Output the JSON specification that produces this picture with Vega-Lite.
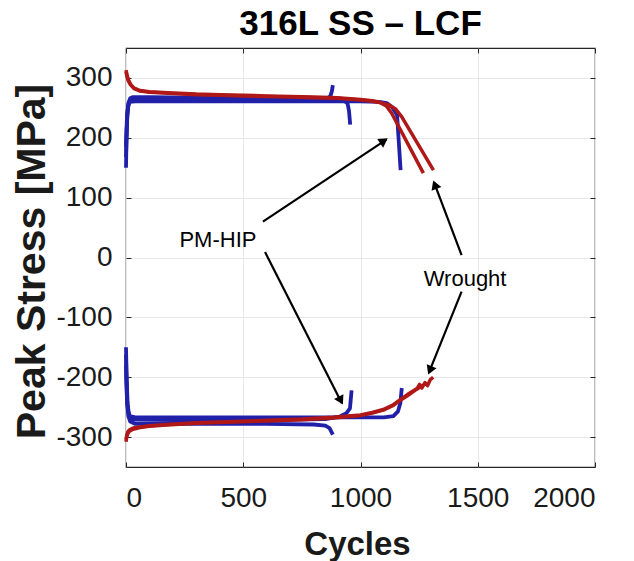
{
  "$schema": "https://vega.github.io/schema/vega-lite/v6.json",
  "width": 469,
  "height": 419,
  "autosize": {"type": "none"},
  "padding": {"left": 126, "top": 48, "right": 39, "bottom": 94},
  "background": "white",
  "config": {"view": {"stroke": "#262626", "strokeWidth": 1.2}, "font": "Liberation Sans"},
  "title": {"text": "316L SS – LCF", "fontSize": 35, "fontWeight": "bold", "font": "Liberation Sans", "color": "#000000", "anchor": "middle", "offset": 6},
  "datasets": {
    "curves": [
      {"series": "P1T", "group": "PM-HIP", "cycles": 0, "stress": 150},
      {"series": "P1T", "group": "PM-HIP", "cycles": 2, "stress": 195},
      {"series": "P1T", "group": "PM-HIP", "cycles": 5, "stress": 235},
      {"series": "P1T", "group": "PM-HIP", "cycles": 10, "stress": 258},
      {"series": "P1T", "group": "PM-HIP", "cycles": 18, "stress": 266},
      {"series": "P1T", "group": "PM-HIP", "cycles": 30, "stress": 268},
      {"series": "P1T", "group": "PM-HIP", "cycles": 100, "stress": 268},
      {"series": "P1T", "group": "PM-HIP", "cycles": 300, "stress": 267},
      {"series": "P1T", "group": "PM-HIP", "cycles": 500, "stress": 267},
      {"series": "P1T", "group": "PM-HIP", "cycles": 700, "stress": 266},
      {"series": "P1T", "group": "PM-HIP", "cycles": 860, "stress": 266},
      {"series": "P1T", "group": "PM-HIP", "cycles": 872, "stress": 270},
      {"series": "P1T", "group": "PM-HIP", "cycles": 878, "stress": 278},
      {"series": "P1T", "group": "PM-HIP", "cycles": 882, "stress": 288},
      {"series": "P2T", "group": "PM-HIP", "cycles": 0, "stress": 168},
      {"series": "P2T", "group": "PM-HIP", "cycles": 3, "stress": 215},
      {"series": "P2T", "group": "PM-HIP", "cycles": 7, "stress": 245},
      {"series": "P2T", "group": "PM-HIP", "cycles": 13, "stress": 260},
      {"series": "P2T", "group": "PM-HIP", "cycles": 25, "stress": 264},
      {"series": "P2T", "group": "PM-HIP", "cycles": 300, "stress": 264},
      {"series": "P2T", "group": "PM-HIP", "cycles": 600, "stress": 263},
      {"series": "P2T", "group": "PM-HIP", "cycles": 850, "stress": 263},
      {"series": "P2T", "group": "PM-HIP", "cycles": 930, "stress": 262},
      {"series": "P2T", "group": "PM-HIP", "cycles": 945, "stress": 257},
      {"series": "P2T", "group": "PM-HIP", "cycles": 951, "stress": 245},
      {"series": "P2T", "group": "PM-HIP", "cycles": 956, "stress": 222},
      {"series": "P3T", "group": "PM-HIP", "cycles": 0, "stress": 185},
      {"series": "P3T", "group": "PM-HIP", "cycles": 4, "stress": 235},
      {"series": "P3T", "group": "PM-HIP", "cycles": 9, "stress": 253},
      {"series": "P3T", "group": "PM-HIP", "cycles": 16, "stress": 260},
      {"series": "P3T", "group": "PM-HIP", "cycles": 40, "stress": 261},
      {"series": "P3T", "group": "PM-HIP", "cycles": 400, "stress": 261},
      {"series": "P3T", "group": "PM-HIP", "cycles": 800, "stress": 261},
      {"series": "P3T", "group": "PM-HIP", "cycles": 1000, "stress": 261},
      {"series": "P3T", "group": "PM-HIP", "cycles": 1080, "stress": 260},
      {"series": "P3T", "group": "PM-HIP", "cycles": 1112, "stress": 258},
      {"series": "P3T", "group": "PM-HIP", "cycles": 1135, "stress": 251},
      {"series": "P3T", "group": "PM-HIP", "cycles": 1156, "stress": 238},
      {"series": "P3T", "group": "PM-HIP", "cycles": 1171, "stress": 146},
      {"series": "P1C", "group": "PM-HIP", "cycles": 0, "stress": -162},
      {"series": "P1C", "group": "PM-HIP", "cycles": 2, "stress": -210},
      {"series": "P1C", "group": "PM-HIP", "cycles": 5, "stress": -245},
      {"series": "P1C", "group": "PM-HIP", "cycles": 10, "stress": -265},
      {"series": "P1C", "group": "PM-HIP", "cycles": 18, "stress": -274},
      {"series": "P1C", "group": "PM-HIP", "cycles": 40, "stress": -278},
      {"series": "P1C", "group": "PM-HIP", "cycles": 300, "stress": -278},
      {"series": "P1C", "group": "PM-HIP", "cycles": 600, "stress": -278},
      {"series": "P1C", "group": "PM-HIP", "cycles": 800, "stress": -279},
      {"series": "P1C", "group": "PM-HIP", "cycles": 850, "stress": -281},
      {"series": "P1C", "group": "PM-HIP", "cycles": 868, "stress": -285},
      {"series": "P1C", "group": "PM-HIP", "cycles": 882, "stress": -296},
      {"series": "P2C", "group": "PM-HIP", "cycles": 0, "stress": -150},
      {"series": "P2C", "group": "PM-HIP", "cycles": 3, "stress": -205},
      {"series": "P2C", "group": "PM-HIP", "cycles": 7, "stress": -245},
      {"series": "P2C", "group": "PM-HIP", "cycles": 13, "stress": -263},
      {"series": "P2C", "group": "PM-HIP", "cycles": 25, "stress": -271},
      {"series": "P2C", "group": "PM-HIP", "cycles": 300, "stress": -272},
      {"series": "P2C", "group": "PM-HIP", "cycles": 700, "stress": -271},
      {"series": "P2C", "group": "PM-HIP", "cycles": 850, "stress": -270},
      {"series": "P2C", "group": "PM-HIP", "cycles": 910, "stress": -266},
      {"series": "P2C", "group": "PM-HIP", "cycles": 940, "stress": -260},
      {"series": "P2C", "group": "PM-HIP", "cycles": 955, "stress": -252},
      {"series": "P2C", "group": "PM-HIP", "cycles": 962, "stress": -222},
      {"series": "P3C", "group": "PM-HIP", "cycles": 0, "stress": -180},
      {"series": "P3C", "group": "PM-HIP", "cycles": 4, "stress": -235},
      {"series": "P3C", "group": "PM-HIP", "cycles": 9, "stress": -257},
      {"series": "P3C", "group": "PM-HIP", "cycles": 16, "stress": -265},
      {"series": "P3C", "group": "PM-HIP", "cycles": 40, "stress": -267},
      {"series": "P3C", "group": "PM-HIP", "cycles": 500, "stress": -267},
      {"series": "P3C", "group": "PM-HIP", "cycles": 1000, "stress": -267},
      {"series": "P3C", "group": "PM-HIP", "cycles": 1100, "stress": -267},
      {"series": "P3C", "group": "PM-HIP", "cycles": 1140, "stress": -265},
      {"series": "P3C", "group": "PM-HIP", "cycles": 1160, "stress": -257},
      {"series": "P3C", "group": "PM-HIP", "cycles": 1170, "stress": -243},
      {"series": "P3C", "group": "PM-HIP", "cycles": 1176, "stress": -218},
      {"series": "W1T", "group": "Wrought", "cycles": 0, "stress": 313},
      {"series": "W1T", "group": "Wrought", "cycles": 4, "stress": 306},
      {"series": "W1T", "group": "Wrought", "cycles": 10, "stress": 297},
      {"series": "W1T", "group": "Wrought", "cycles": 20, "stress": 289},
      {"series": "W1T", "group": "Wrought", "cycles": 35, "stress": 283},
      {"series": "W1T", "group": "Wrought", "cycles": 60, "stress": 279},
      {"series": "W1T", "group": "Wrought", "cycles": 100, "stress": 277},
      {"series": "W1T", "group": "Wrought", "cycles": 200, "stress": 275},
      {"series": "W1T", "group": "Wrought", "cycles": 300, "stress": 273},
      {"series": "W1T", "group": "Wrought", "cycles": 400, "stress": 272},
      {"series": "W1T", "group": "Wrought", "cycles": 500, "stress": 271},
      {"series": "W1T", "group": "Wrought", "cycles": 600, "stress": 270},
      {"series": "W1T", "group": "Wrought", "cycles": 700, "stress": 269},
      {"series": "W1T", "group": "Wrought", "cycles": 800, "stress": 268},
      {"series": "W1T", "group": "Wrought", "cycles": 900, "stress": 267},
      {"series": "W1T", "group": "Wrought", "cycles": 1000, "stress": 264},
      {"series": "W1T", "group": "Wrought", "cycles": 1050, "stress": 262},
      {"series": "W1T", "group": "Wrought", "cycles": 1083, "stress": 259},
      {"series": "W1T", "group": "Wrought", "cycles": 1110, "stress": 253},
      {"series": "W1T", "group": "Wrought", "cycles": 1133, "stress": 241},
      {"series": "W1T", "group": "Wrought", "cycles": 1268, "stress": 141},
      {"series": "W2T", "group": "Wrought", "cycles": 0, "stress": 310},
      {"series": "W2T", "group": "Wrought", "cycles": 4, "stress": 303},
      {"series": "W2T", "group": "Wrought", "cycles": 10, "stress": 295},
      {"series": "W2T", "group": "Wrought", "cycles": 20, "stress": 288},
      {"series": "W2T", "group": "Wrought", "cycles": 35, "stress": 282},
      {"series": "W2T", "group": "Wrought", "cycles": 60, "stress": 278},
      {"series": "W2T", "group": "Wrought", "cycles": 100, "stress": 276},
      {"series": "W2T", "group": "Wrought", "cycles": 200, "stress": 274},
      {"series": "W2T", "group": "Wrought", "cycles": 300, "stress": 272},
      {"series": "W2T", "group": "Wrought", "cycles": 400, "stress": 271},
      {"series": "W2T", "group": "Wrought", "cycles": 500, "stress": 270},
      {"series": "W2T", "group": "Wrought", "cycles": 600, "stress": 269},
      {"series": "W2T", "group": "Wrought", "cycles": 700, "stress": 268},
      {"series": "W2T", "group": "Wrought", "cycles": 800, "stress": 267},
      {"series": "W2T", "group": "Wrought", "cycles": 900, "stress": 266},
      {"series": "W2T", "group": "Wrought", "cycles": 1000, "stress": 263},
      {"series": "W2T", "group": "Wrought", "cycles": 1050, "stress": 261},
      {"series": "W2T", "group": "Wrought", "cycles": 1083, "stress": 259},
      {"series": "W2T", "group": "Wrought", "cycles": 1120, "stress": 255},
      {"series": "W2T", "group": "Wrought", "cycles": 1150, "stress": 248},
      {"series": "W2T", "group": "Wrought", "cycles": 1176, "stress": 235},
      {"series": "W2T", "group": "Wrought", "cycles": 1311, "stress": 146},
      {"series": "W1C", "group": "Wrought", "cycles": 0, "stress": -308},
      {"series": "W1C", "group": "Wrought", "cycles": 3, "stress": -300},
      {"series": "W1C", "group": "Wrought", "cycles": 8, "stress": -294},
      {"series": "W1C", "group": "Wrought", "cycles": 15, "stress": -290},
      {"series": "W1C", "group": "Wrought", "cycles": 30, "stress": -287},
      {"series": "W1C", "group": "Wrought", "cycles": 60, "stress": -284},
      {"series": "W1C", "group": "Wrought", "cycles": 100, "stress": -282},
      {"series": "W1C", "group": "Wrought", "cycles": 174, "stress": -280},
      {"series": "W1C", "group": "Wrought", "cycles": 300, "stress": -277},
      {"series": "W1C", "group": "Wrought", "cycles": 457, "stress": -275},
      {"series": "W1C", "group": "Wrought", "cycles": 600, "stress": -273},
      {"series": "W1C", "group": "Wrought", "cycles": 750, "stress": -271},
      {"series": "W1C", "group": "Wrought", "cycles": 884, "stress": -268},
      {"series": "W1C", "group": "Wrought", "cycles": 1000, "stress": -264},
      {"series": "W1C", "group": "Wrought", "cycles": 1050, "stress": -260},
      {"series": "W1C", "group": "Wrought", "cycles": 1097, "stress": -255},
      {"series": "W1C", "group": "Wrought", "cycles": 1140, "stress": -247},
      {"series": "W1C", "group": "Wrought", "cycles": 1168, "stress": -239},
      {"series": "W1C", "group": "Wrought", "cycles": 1200, "stress": -231},
      {"series": "W1C", "group": "Wrought", "cycles": 1240, "stress": -220},
      {"series": "W1C", "group": "Wrought", "cycles": 1268, "stress": -213},
      {"series": "W2C", "group": "Wrought", "cycles": 0, "stress": -304},
      {"series": "W2C", "group": "Wrought", "cycles": 3, "stress": -297},
      {"series": "W2C", "group": "Wrought", "cycles": 8, "stress": -291},
      {"series": "W2C", "group": "Wrought", "cycles": 15, "stress": -288},
      {"series": "W2C", "group": "Wrought", "cycles": 30, "stress": -285},
      {"series": "W2C", "group": "Wrought", "cycles": 60, "stress": -283},
      {"series": "W2C", "group": "Wrought", "cycles": 100, "stress": -281},
      {"series": "W2C", "group": "Wrought", "cycles": 174, "stress": -279},
      {"series": "W2C", "group": "Wrought", "cycles": 300, "stress": -276},
      {"series": "W2C", "group": "Wrought", "cycles": 457, "stress": -274},
      {"series": "W2C", "group": "Wrought", "cycles": 600, "stress": -272},
      {"series": "W2C", "group": "Wrought", "cycles": 750, "stress": -270},
      {"series": "W2C", "group": "Wrought", "cycles": 884, "stress": -267},
      {"series": "W2C", "group": "Wrought", "cycles": 1000, "stress": -263},
      {"series": "W2C", "group": "Wrought", "cycles": 1050, "stress": -259},
      {"series": "W2C", "group": "Wrought", "cycles": 1097, "stress": -254},
      {"series": "W2C", "group": "Wrought", "cycles": 1140, "stress": -246},
      {"series": "W2C", "group": "Wrought", "cycles": 1168, "stress": -238},
      {"series": "W2C", "group": "Wrought", "cycles": 1200, "stress": -229},
      {"series": "W2C", "group": "Wrought", "cycles": 1241, "stress": -219},
      {"series": "W2C", "group": "Wrought", "cycles": 1252, "stress": -212},
      {"series": "W2C", "group": "Wrought", "cycles": 1262, "stress": -218},
      {"series": "W2C", "group": "Wrought", "cycles": 1275, "stress": -209},
      {"series": "W2C", "group": "Wrought", "cycles": 1286, "stress": -214},
      {"series": "W2C", "group": "Wrought", "cycles": 1298, "stress": -204},
      {"series": "W2C", "group": "Wrought", "cycles": 1310, "stress": -200}
    ],
    "labels": [
      {"label": "PM-HIP", "cycles": 392, "stress": 30},
      {"label": "Wrought", "cycles": 1446, "stress": -36}
    ],
    "arrows": [
      {"id": "a1", "x1": 584, "y1": 60, "x2": 1110, "y2": 197, "hx": 1100, "hy": 195},
      {"id": "a2", "x1": 593, "y1": 9, "x2": 920, "y2": -243, "hx": 916, "hy": -239},
      {"id": "a3", "x1": 1431, "y1": 4, "x2": 1314, "y2": 125, "hx": 1317, "hy": 121.6},
      {"id": "a4", "x1": 1431, "y1": -57, "x2": 1292, "y2": -192, "hx": 1296, "hy": -188.6}
    ]
  },
  "layer": [
    {
      "layer": [
        {
          "data": {"name": "curves"},
          "transform": [{"filter": "datum.group === 'PM-HIP'"}],
          "mark": {"type": "line", "strokeWidth": 3.8, "color": "#2020a8", "strokeJoin": "round"},
          "encoding": {
            "x": {"field": "cycles", "type": "quantitative",
              "scale": {"domain": [0, 2000], "nice": false, "zero": false},
              "axis": {"orient": "bottom", "values": [0, 500, 1000, 1500, 2000], "labelExpr": "'' + datum.value", "domain": false, "grid": true, "gridColor": "#e8e8e8", "gridWidth": 1,
                "ticks": true, "tickSize": -5, "tickColor": "#262626", "tickWidth": 1,
                "labelFontSize": 28, "labelColor": "#1a1a1a", "labelFont": "Liberation Sans", "labelPadding": 22,
                "title": "Cycles", "titleFontSize": 33, "titleFontWeight": "bold", "titleFont": "Liberation Sans", "titleColor": "#1a1a1a",
                "titleX": 231, "titleY": 87, "titleBaseline": "alphabetic"}},
            "y": {"field": "stress", "type": "quantitative",
              "scale": {"domain": [-350, 350], "nice": false, "zero": false},
              "axis": {"orient": "left", "values": [-300, -200, -100, 0, 100, 200, 300], "labelExpr": "'' + datum.value", "domain": false, "grid": true, "gridColor": "#e8e8e8", "gridWidth": 1,
                "ticks": true, "tickSize": -5, "tickColor": "#262626", "tickWidth": 1,
                "labelFontSize": 28, "labelColor": "#1a1a1a", "labelFont": "Liberation Sans", "labelPadding": 19,
                "title": "Peak Stress [MPa]", "titleFontSize": 41, "titleFontWeight": "bold", "titleFont": "Liberation Sans", "titleColor": "#1a1a1a",
                "titleX": -82, "titleY": 213, "titleBaseline": "alphabetic", "titleAngle": 270}},
            "detail": {"field": "series"}
          }
        },
        {
          "data": {"name": "curves"},
          "transform": [{"filter": "datum.group === 'Wrought'"}],
          "mark": {"type": "line", "strokeWidth": 3.5, "color": "#b01818", "strokeJoin": "round"},
          "encoding": {
            "x": {"field": "cycles", "type": "quantitative"},
            "y": {"field": "stress", "type": "quantitative"},
            "detail": {"field": "series"}
          }
        },
        {
          "data": {"name": "arrows"},
          "mark": {"type": "rule", "strokeWidth": 2.2, "color": "#000000"},
          "encoding": {
            "x": {"field": "x1", "type": "quantitative"},
            "y": {"field": "y1", "type": "quantitative"},
            "x2": {"field": "x2"},
            "y2": {"field": "y2"}
          }
        },
        {
          "data": {"name": "arrows"},
          "transform": [{"filter": "datum.id === 'a1'"}],
          "mark": {"type": "point", "shape": "triangle-up", "filled": true, "size": 110, "angle": 55.9, "color": "#000000", "opacity": 1},
          "encoding": {"x": {"field": "hx", "type": "quantitative"}, "y": {"field": "hy", "type": "quantitative"}}
        },
        {
          "data": {"name": "arrows"},
          "transform": [{"filter": "datum.id === 'a2'"}],
          "mark": {"type": "point", "shape": "triangle-up", "filled": true, "size": 110, "angle": 153, "color": "#000000", "opacity": 1},
          "encoding": {"x": {"field": "hx", "type": "quantitative"}, "y": {"field": "hy", "type": "quantitative"}}
        },
        {
          "data": {"name": "arrows"},
          "transform": [{"filter": "datum.id === 'a3'"}],
          "mark": {"type": "point", "shape": "triangle-up", "filled": true, "size": 110, "angle": -21, "color": "#000000", "opacity": 1},
          "encoding": {"x": {"field": "hx", "type": "quantitative"}, "y": {"field": "hy", "type": "quantitative"}}
        },
        {
          "data": {"name": "arrows"},
          "transform": [{"filter": "datum.id === 'a4'"}],
          "mark": {"type": "point", "shape": "triangle-up", "filled": true, "size": 110, "angle": 202.3, "color": "#000000", "opacity": 1},
          "encoding": {"x": {"field": "hx", "type": "quantitative"}, "y": {"field": "hy", "type": "quantitative"}}
        },
        {
          "data": {"name": "labels"},
          "mark": {"type": "text", "fontSize": 22, "font": "Liberation Sans", "color": "#000000", "align": "center", "baseline": "middle"},
          "encoding": {
            "x": {"field": "cycles", "type": "quantitative"},
            "y": {"field": "stress", "type": "quantitative"},
            "text": {"field": "label"}
          }
        }
      ]
    },
    {
      "data": {"values": [{"cycles": 0, "stress": 0}]},
      "mark": {"type": "point", "opacity": 0},
      "encoding": {
        "x": {"field": "cycles", "type": "quantitative",
          "scale": {"domain": [0, 2000], "nice": false, "zero": false},
          "axis": {"orient": "top", "values": [0, 500, 1000, 1500, 2000], "labels": false, "grid": false, "domain": false, "ticks": true, "tickSize": -5, "tickColor": "#262626", "title": null}},
        "y": {"field": "stress", "type": "quantitative",
          "scale": {"domain": [-350, 350], "nice": false, "zero": false},
          "axis": {"orient": "right", "values": [-300, -200, -100, 0, 100, 200, 300], "labels": false, "grid": false, "domain": false, "ticks": true, "tickSize": -5, "tickColor": "#262626", "title": null}}
      }
    }
  ],
  "resolve": {"axis": {"x": "independent", "y": "independent"}}
}
